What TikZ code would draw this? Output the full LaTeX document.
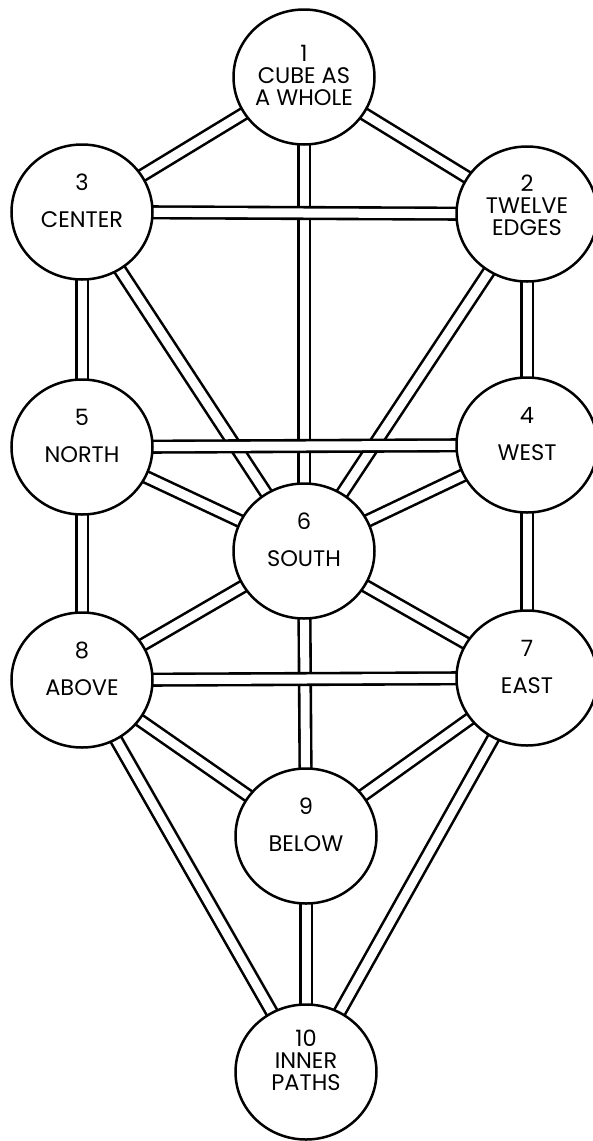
\documentclass[tikz,border=0pt]{standalone}
\usepackage{fontspec}
\setmainfont{Poppins}
\newcommand*{\sefirafont}{\fontsize{22.5}{22}\selectfont}
\usetikzlibrary{shapes.geometric}
\usetikzlibrary{backgrounds}
\tikzstyle{base}=[x=1pt, y=-1pt, inner sep=0pt, outer sep=0pt]
\tikzstyle{sefira}=[ellipse, draw=black, line width=2.5pt, fill=white, minimum width=141pt, minimum height=135pt]
\tikzstyle{sefiratext}=[align=center, font=\sefirafont]
\tikzstyle{channel}=[draw=black, line width=2.6pt, double=white, double distance=9pt]

\begin{document}
\begin{tikzpicture}[base]
    \path [use as bounding box] (0,0) rectangle (592,1141);
    \node [sefira, label={[sefiratext, yshift=2pt]center:{1\\CUBE AS\\A WHOLE}}] (s1) at (304,77) {};
    \node [sefira, label={[sefiratext, yshift=9pt]center:{2\\TWELVE\\EDGES}}] (s2) at (527,214) {};
    \node [sefira, label={[sefiratext, yshift=11pt]center:{3\\[15pt]CENTER}}] (s3) at (82,212) {};
    \node [sefira, label={[sefiratext, yshift=11pt]center:{4\\[15pt]WEST}}] (s4) at (527,445) {};
    \node [sefira, label={[sefiratext, yshift=11pt]center:{5\\[15pt]NORTH}}] (s5) at (82,447) {};
    \node [sefira, label={[sefiratext, yshift=11pt]center:{6\\[15pt]SOUTH}}] (s6) at (304,551) {};
    \node [sefira, label={[sefiratext, yshift=11pt]center:{7\\[15pt]EAST}}] (s7) at (527,678) {};
    \node [sefira, label={[sefiratext, yshift=11pt]center:{8\\[15pt]ABOVE}}] (s8) at (82,680) {};
    \node [sefira, label={[sefiratext, yshift=11pt]center:{9\\[15pt]BELOW}}] (s9) at (306,836) {};
    \node [sefira, label={[sefiratext, yshift=12pt]center:{10\\INNER\\PATHS}}] (s10) at (306,1072) {};
    \begin{scope}[on background layer]
        % verticals and diagonals first, the horizontals lie on top
        \draw [channel] (s1.center) -- (s3.center);
        \draw [channel] (s1.center) -- (s2.center);
        \draw [channel] (s1.center) -- (s6.center);
        \draw [channel] (s3.center) -- (s5.center);
        \draw [channel] (s3.center) -- (s6.center);
        \draw [channel] (s2.center) -- (s4.center);
        \draw [channel] (s2.center) -- (s6.center);
        \draw [channel] (s5.center) -- (s6.center);
        \draw [channel] (s4.center) -- (s6.center);
        \draw [channel] (s5.center) -- (s8.center);
        \draw [channel] (s4.center) -- (s7.center);
        \draw [channel] (s6.center) -- (s8.center);
        \draw [channel] (s6.center) -- (s7.center);
        \draw [channel] (s6.center) -- (s9.center);
        \draw [channel] (s8.center) -- (s9.center);
        \draw [channel] (s7.center) -- (s9.center);
        \draw [channel] (s8.center) -- (s10.center);
        \draw [channel] (s7.center) -- (s10.center);
        \draw [channel] (s9.center) -- (s10.center);
        \draw [channel] (s3.center) -- (s2.center);
        \draw [channel] (s5.center) -- (s4.center);
        \draw [channel] (s8.center) -- (s7.center);
    \end{scope}
\end{tikzpicture}
\end{document}
